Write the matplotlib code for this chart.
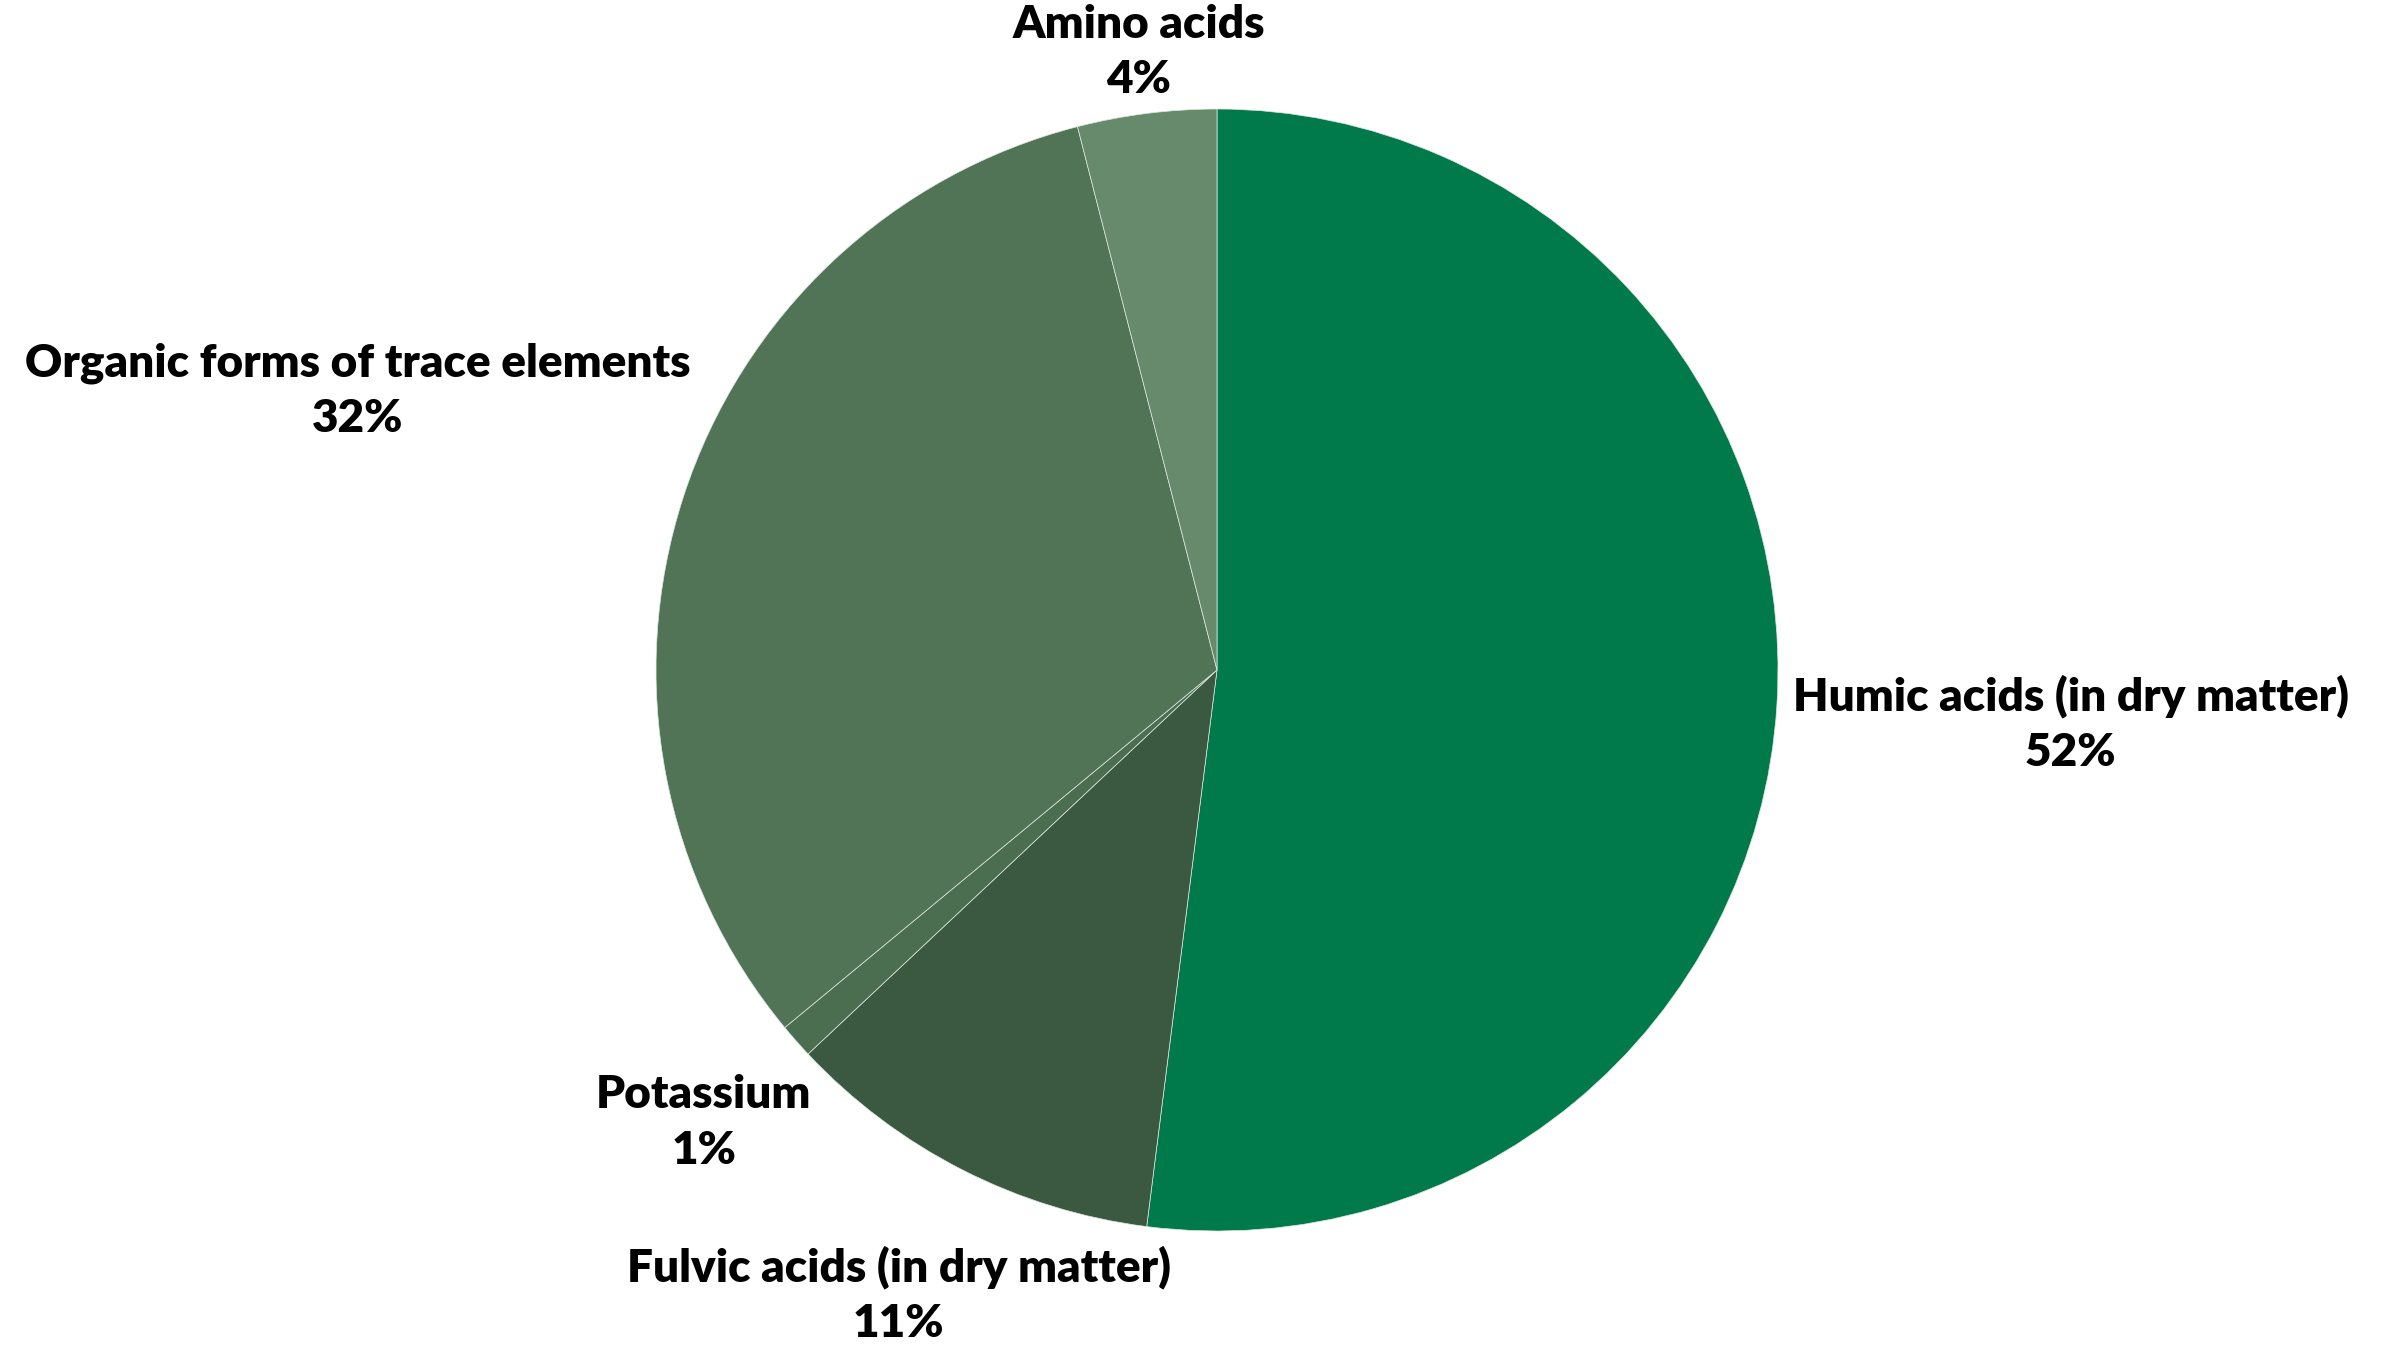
import numpy as np
import matplotlib
matplotlib.use('Agg')
import matplotlib.pyplot as plt

# slice data, clockwise from 12 o'clock
categories = ['Humic acids (in dry matter)', 'Fulvic acids (in dry matter)',
              'Potassium', 'Organic forms of trace elements', 'Amino acids']
shares = [52, 11, 1, 32, 4]
colors = ['#007A4B', '#3B5940', '#4B6E51', '#527456', '#678A6C']
# radial distance of each label centre, in units of the radius
label_dist = [1.525, 1.25, 1.22, 1.61, 1.11]

W, H = 2393, 1349
fig = plt.figure(figsize=(W / 100, H / 100), dpi=100)
ax = fig.add_axes([0, 0, 1, 1])
ax.set_xlim(0, W)
ax.set_ylim(0, H)
ax.set_aspect('equal')
ax.axis('off')

cx, cy, r = 1217, H - 670, 561
wedges, _ = ax.pie(shares, colors=colors, startangle=90, counterclock=False,
                   center=(cx, cy), radius=r,
                   wedgeprops=dict(edgecolor='#dfe8e0', linewidth=0.5))
ax.set_xlim(0, W)
ax.set_ylim(0, H)

for w, name, val, d in zip(wedges, categories, shares, label_dist):
    ang = np.deg2rad((w.theta1 + w.theta2) / 2)
    x = cx + r * d * np.cos(ang)
    y = cy + r * d * np.sin(ang)
    ax.text(x, y, f'{name}\n{val}%', ha='center', va='center',
            multialignment='center', linespacing=1.42,
            fontsize=33, fontweight='heavy', family=['Lato', 'DejaVu Sans'],
            color='black')

fig.savefig('out.png', dpi=100)
